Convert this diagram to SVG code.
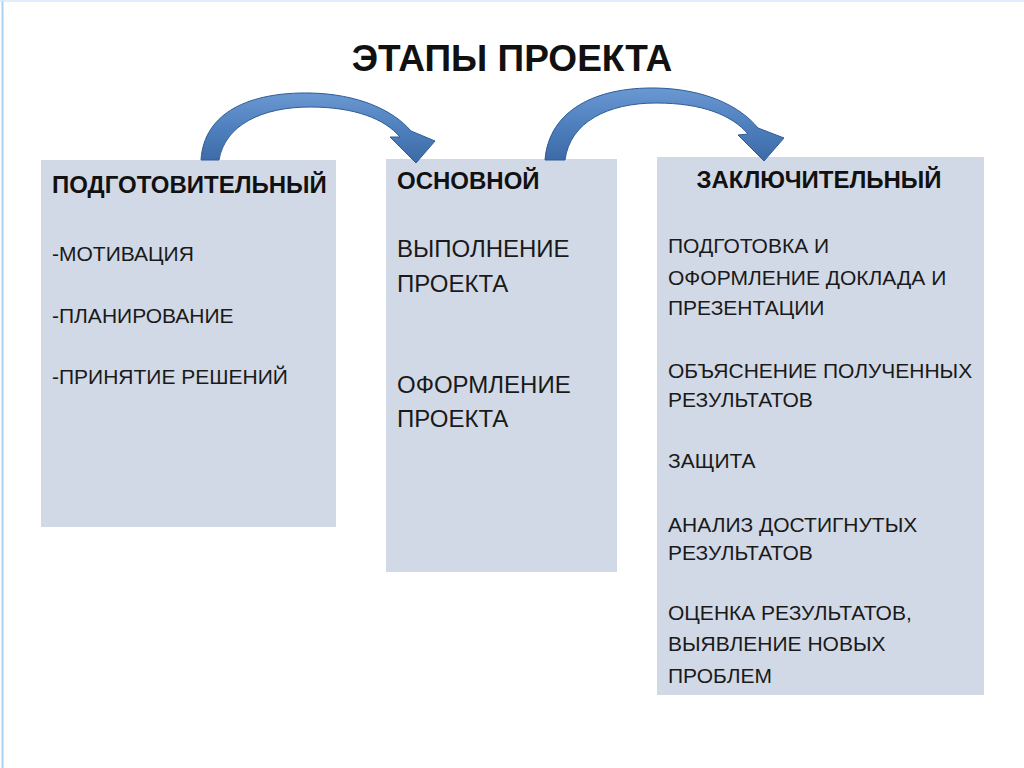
<svg xmlns="http://www.w3.org/2000/svg" width="1024" height="768" viewBox="0 0 1024 768">
<defs>
<linearGradient id="ag" x1="0" y1="0" x2="0" y2="1">
<stop offset="0" stop-color="#6A98D2"/>
<stop offset="0.5" stop-color="#4F80BE"/>
<stop offset="1" stop-color="#3C6AA6"/>
</linearGradient>
<style>
.box{fill:#D2D9E6}
.hd{font-family:"Liberation Sans",Arial,sans-serif;font-weight:bold;font-size:24px;fill:#111}
.tx{font-family:"Liberation Sans",Arial,sans-serif;font-size:21px;fill:#1a1a1a}
.tx2{font-family:"Liberation Sans",Arial,sans-serif;font-size:24px;fill:#1a1a1a}
.arr{fill:url(#ag);stroke:#2F5C96;stroke-width:1}
</style>
</defs>
<rect width="1024" height="768" fill="#fff"/>
<line x1="2.5" y1="0" x2="2.5" y2="768" stroke="#A9D1F3" stroke-width="2"/>
<line x1="0" y1="1" x2="1024" y2="1" stroke="#D4E8F8" stroke-width="1.5"/>
<text x="512" y="71" text-anchor="middle" font-family="Liberation Sans, Arial, sans-serif" font-weight="bold" font-size="37" fill="#111">ЭТАПЫ ПРОЕКТА</text>
<g id="stage1">
<rect class="box" x="41" y="160" width="295" height="367"/>
<text class="hd" x="52" y="193">ПОДГОТОВИТЕЛЬНЫЙ</text>
<text class="tx" x="52" y="261">-МОТИВАЦИЯ</text>
<text class="tx" x="52" y="323">-ПЛАНИРОВАНИЕ</text>
<text class="tx" x="52" y="384">-ПРИНЯТИЕ РЕШЕНИЙ</text>
</g>
<g id="stage2">
<rect class="box" x="386" y="159" width="231" height="413"/>
<text class="hd" x="397" y="189">ОСНОВНОЙ</text>
<text class="tx2" x="397" y="257">ВЫПОЛНЕНИЕ</text>
<text class="tx2" x="397" y="292">ПРОЕКТА</text>
<text class="tx2" x="397" y="393">ОФОРМЛЕНИЕ</text>
<text class="tx2" x="397" y="427">ПРОЕКТА</text>
</g>
<g id="stage3">
<rect class="box" x="657" y="157" width="327" height="538"/>
<text class="hd" x="819" y="188" text-anchor="middle">ЗАКЛЮЧИТЕЛЬНЫЙ</text>
<text class="tx" x="668" y="253">ПОДГОТОВКА И</text>
<text class="tx" x="668" y="285">ОФОРМЛЕНИЕ ДОКЛАДА И</text>
<text class="tx" x="668" y="315">ПРЕЗЕНТАЦИИ</text>
<text class="tx" x="668" y="378">ОБЪЯСНЕНИЕ ПОЛУЧЕННЫХ</text>
<text class="tx" x="668" y="407">РЕЗУЛЬТАТОВ</text>
<text class="tx" x="668" y="468">ЗАЩИТА</text>
<text class="tx" x="668" y="532">АНАЛИЗ ДОСТИГНУТЫХ</text>
<text class="tx" x="668" y="560">РЕЗУЛЬТАТОВ</text>
<text class="tx" x="668" y="620">ОЦЕНКА РЕЗУЛЬТАТОВ,</text>
<text class="tx" x="668" y="651">ВЫЯВЛЕНИЕ НОВЫХ</text>
<text class="tx" x="668" y="683">ПРОБЛЕМ</text>
</g>
<g id="connectors">
<path class="arr" d="M201,160 C204,112 250,92 310,93 C358,94 393,110 411,131 L435,141 L416,163 L390,137 L400,137 C385,119 355,107 310,107 C262,107 225,125 219,160 Z"/>
<path class="arr" d="M545,160 C549,110 596,87 656,88 C705,89 740,106 758,128 L784,138 L764,161 L738,135 L748,134 C732,115 702,103 656,103 C608,103 570,122 565,160 Z"/>
</g>
</svg>
